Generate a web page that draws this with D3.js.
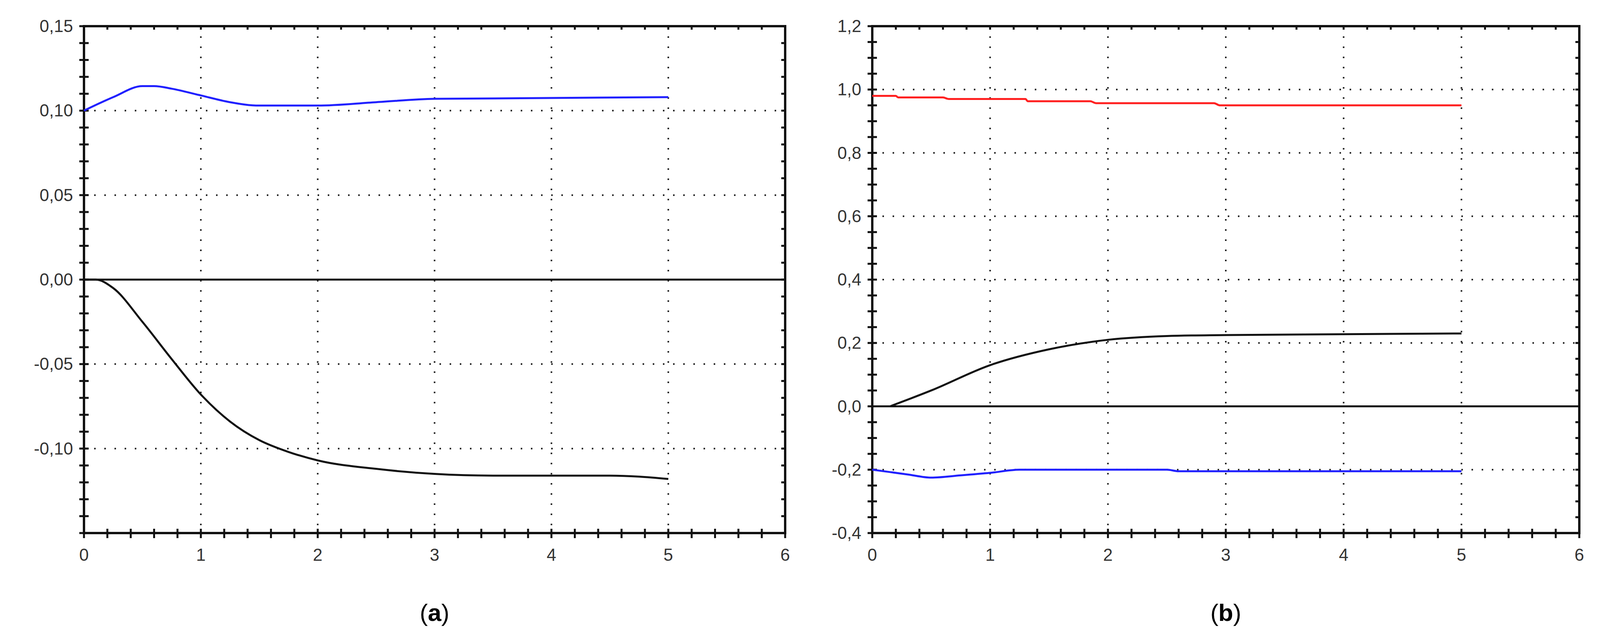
<!DOCTYPE html>
<html>
<head>
<meta charset="utf-8">
<script src="https://cdn.jsdelivr.net/npm/d3@7"></script>
<style>
  body { margin: 0; background: #fff; }
  text { font-family: Arial, "Liberation Sans", sans-serif; }
</style>
</head>
<body>
<script>
// panel (a)
var aBlueX = [0, 0.25, 0.5, 0.6, 0.75, 1, 1.25, 1.5, 2, 2.5, 3, 5];
var aBlueY = [0.100, 0.108, 0.1145, 0.1145, 0.113, 0.109, 0.105, 0.103, 0.103, 0.105, 0.107, 0.108];
var aBlackX = [0, 0.1, 0.25, 0.5, 0.75, 1, 1.25, 1.5, 1.75, 2, 2.5, 3, 3.5, 4.5, 5];
var aBlackY = [0, 0, -0.005, -0.025, -0.047, -0.068, -0.084, -0.095, -0.102, -0.107, -0.112, -0.115, -0.116, -0.116, -0.118];
var aTicks = [-0.10, -0.05, 0.00, 0.05, 0.10, 0.15];
// panel (b)
var bRedX = [0, 0.2, 0.22, 0.6, 0.65, 1.3, 1.32, 1.85, 1.9, 2.9, 2.95, 5];
var bRedY = [0.98, 0.98, 0.975, 0.975, 0.97, 0.97, 0.963, 0.963, 0.957, 0.957, 0.95, 0.95];
var bBlackX = [0.15, 0.5, 1, 1.5, 2, 2.5, 3, 5];
var bBlackY = [0, 0.05, 0.13, 0.18, 0.21, 0.222, 0.225, 0.23];
var bBlueX = [0, 0.3, 0.5, 0.75, 1, 1.25, 2.5, 2.6, 5];
var bBlueY = [-0.2, -0.215, -0.225, -0.218, -0.21, -0.2, -0.2, -0.205, -0.205];
var bTicks = [-0.4, -0.2, 0.0, 0.2, 0.4, 0.6, 0.8, 1.0, 1.2];
var xTicks = [0, 1, 2, 3, 4, 5, 6];

var svg = d3.select('body').append('svg').attr('width', 4100).attr('height', 1644);
var comma = function(dec){ return function(d){ return d3.format('.' + dec + 'f')(d).replace('.', ',').replace('\u2212', '-'); }; };

function panel(cfg) {
  var x = d3.scaleLinear().domain([0, 6]).range([cfg.left, cfg.right]);
  var y = d3.scaleLinear().domain(cfg.ydom).range([1365, 67]);
  var g = svg.append('g');

  // grid
  g.selectAll('.gx').data(xTicks.slice(1, 6)).enter().append('line')
    .attr('x1', x).attr('x2', x).attr('y1', 67).attr('y2', 1365)
    .attr('stroke', '#222').attr('stroke-width', 4).attr('stroke-dasharray', '4,22');
  g.selectAll('.gy').data(cfg.ticks.filter(function(d){ return d !== 0 && d !== cfg.ydom[1] && d !== cfg.ydom[0]; }))
    .enter().append('line')
    .attr('x1', cfg.left).attr('x2', cfg.right).attr('y1', y).attr('y2', y)
    .attr('stroke', '#222').attr('stroke-width', 4).attr('stroke-dasharray', '4,22');

  // zero line
  g.append('line').attr('x1', cfg.left).attr('x2', cfg.right).attr('y1', y(0)).attr('y2', y(0))
    .attr('stroke', '#111').attr('stroke-width', 5);

  // minor ticks
  var xm = d3.range(0, 6.01, 0.2);
  g.selectAll('.mxb').data(xm).enter().append('line')
    .attr('x1', x).attr('x2', x).attr('y1', 1354).attr('y2', 1378)
    .attr('stroke', '#111').attr('stroke-width', 5);
  g.selectAll('.mxt').data(xm).enter().append('line')
    .attr('x1', x).attr('x2', x).attr('y1', 67).attr('y2', 76)
    .attr('stroke', '#111').attr('stroke-width', 5);
  var ym = d3.range(cfg.ydom[0], cfg.ydom[1] + cfg.minor / 2, cfg.minor);
  g.selectAll('.my').data(ym).enter().append('line')
    .attr('x1', cfg.left - 12).attr('x2', cfg.left + 12).attr('y1', y).attr('y2', y)
    .attr('stroke', '#111').attr('stroke-width', 5);
  g.selectAll('.myr').data(ym).enter().append('line')
    .attr('x1', cfg.right - 10).attr('x2', cfg.right).attr('y1', y).attr('y2', y)
    .attr('stroke', '#111').attr('stroke-width', 5);

  // frame
  g.append('rect').attr('x', cfg.left).attr('y', 67).attr('width', cfg.right - cfg.left).attr('height', 1365 - 67)
    .attr('fill', 'none').attr('stroke', '#111').attr('stroke-width', 6);

  // labels
  g.selectAll('.xl').data(xTicks).enter().append('text')
    .attr('x', x).attr('y', 1436).attr('text-anchor', 'middle')
    .attr('font-size', 44).attr('fill', '#333').text(function(d){ return d; });
  g.selectAll('.yl').data(cfg.ticks).enter().append('text')
    .attr('x', cfg.left - 28).attr('y', function(d){ return y(d) + 15; }).attr('text-anchor', 'end')
    .attr('font-size', 44).attr('fill', '#333').text(comma(cfg.dec));

  // series
  var line = d3.line().x(function(d){ return x(d[0]); }).y(function(d){ return y(d[1]); }).curve(d3.curveMonotoneX);
  cfg.series.forEach(function(s){
    g.append('path').datum(d3.zip(s.x, s.y)).attr('d', line)
      .attr('fill', 'none').attr('stroke', s.color).attr('stroke-width', 5);
  });

  // caption
  var cap = g.append('text').attr('x', (cfg.left + cfg.right) / 2).attr('y', 1590).attr('text-anchor', 'middle')
    .attr('font-size', 62).attr('font-family', '"Liberation Serif", "DejaVu Serif", serif').attr('fill', '#000');
  cap.append('tspan').text('(');
  cap.append('tspan').attr('font-weight', 'bold').text(cfg.cap);
  cap.append('tspan').text(')');
}

panel({ left: 215, right: 2010, ydom: [-0.15, 0.15], ticks: aTicks, minor: 0.01, dec: 2, cap: 'a',
  series: [{ x: aBlueX, y: aBlueY, color: '#2020ff' }, { x: aBlackX, y: aBlackY, color: '#111' }] });
panel({ left: 2233, right: 4043, ydom: [-0.4, 1.2], ticks: bTicks, minor: 0.05, dec: 1, cap: 'b',
  series: [{ x: bRedX, y: bRedY, color: '#ff2020' }, { x: bBlackX, y: bBlackY, color: '#111' }, { x: bBlueX, y: bBlueY, color: '#2020ff' }] });
</script>
</body>
</html>
